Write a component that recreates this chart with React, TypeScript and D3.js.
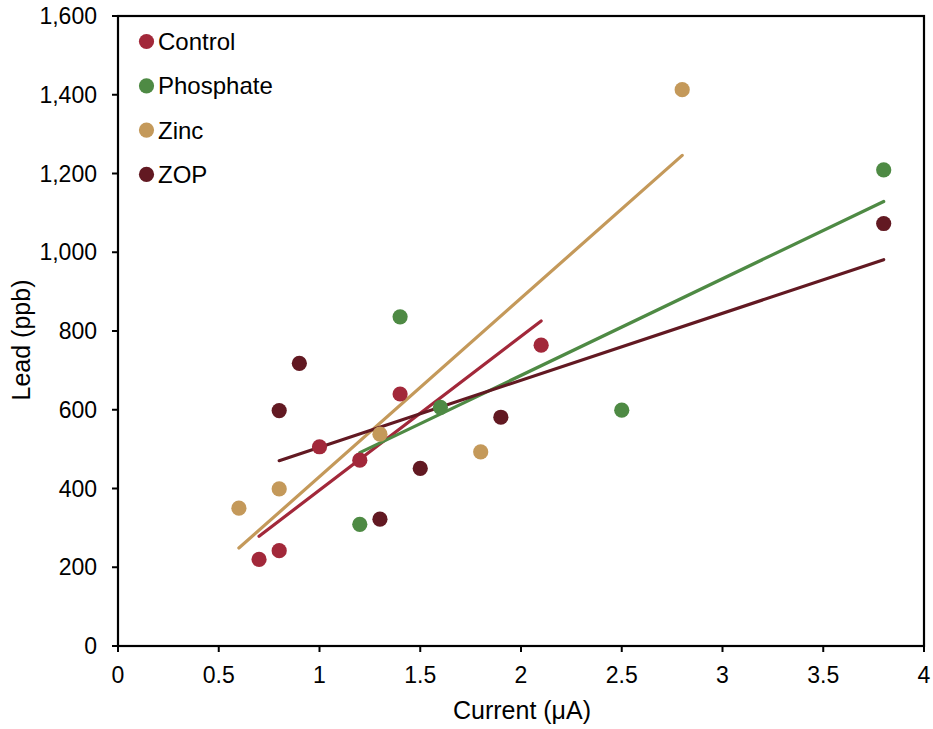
import React from "react";
import * as d3 from "d3";

const seriesNames = ["Control", "Phosphate", "Zinc", "ZOP"];
const seriesColors = ["#A2283A", "#4E8A44", "#C4995A", "#621922"];

const controlX = [0.7, 0.8, 1.0, 1.2, 1.4, 2.1];
const controlY = [220, 242, 506, 472, 640, 764];
const phosphateX = [1.2, 1.4, 1.6, 2.5, 3.8];
const phosphateY = [309, 836, 606, 599, 1209];
const zincX = [0.6, 0.8, 1.3, 1.8, 2.8];
const zincY = [350, 399, 538, 493, 1413];
const zopX = [0.8, 0.9, 1.3, 1.5, 1.9, 3.8];
const zopY = [598, 718, 322, 451, 581, 1073];

const xTicks = [0, 0.5, 1, 1.5, 2, 2.5, 3, 3.5, 4];
const yTicks = [0, 200, 400, 600, 800, 1000, 1200, 1400, 1600];

const xTitle = "Current (μA)";
const yTitle = "Lead (ppb)";

const W = 933;
const H = 729;
const L = 118;
const R = 924;
const T = 16;
const B = 646;

const FONT = "'Liberation Sans', Arial, sans-serif";

function fit(xs: number[], ys: number[]) {
  const mx = d3.mean(xs)!;
  const my = d3.mean(ys)!;
  let sxy = 0;
  let sxx = 0;
  xs.forEach((x, i) => {
    sxy += (x - mx) * (ys[i] - my);
    sxx += (x - mx) * (x - mx);
  });
  const slope = sxy / sxx;
  const b = my - slope * mx;
  const x0 = d3.min(xs)!;
  const x1 = d3.max(xs)!;
  return [
    [x0, b + slope * x0],
    [x1, b + slope * x1],
  ];
}

export default function App() {
  const x = d3.scaleLinear().domain([0, 4]).range([L, R]);
  const y = d3.scaleLinear().domain([0, 1600]).range([B, T]);
  const fmt = d3.format(",");
  const data = [
    [controlX, controlY],
    [phosphateX, phosphateY],
    [zincX, zincY],
    [zopX, zopY],
  ];
  const line = d3
    .line<number[]>()
    .x((d) => x(d[0]))
    .y((d) => y(d[1]));

  return (
    <svg
      width={W}
      height={H}
      style={{ position: "absolute", left: 0, top: 0, background: "#fff" }}
      fontFamily={FONT}
    >
      <rect x={0} y={0} width={W} height={H} fill="#fff" />
      {data.map(([xs, ys], i) => (
        <path
          key={"l" + i}
          d={line(fit(xs, ys))!}
          stroke={seriesColors[i]}
          strokeWidth={3.2}
          strokeLinecap="round"
          fill="none"
        />
      ))}
      {data.map(([xs, ys], i) =>
        xs.map((v, j) => (
          <circle
            key={"p" + i + "-" + j}
            cx={x(v)}
            cy={y(ys[j])}
            r={7.6}
            fill={seriesColors[i]}
          />
        ))
      )}
      <rect x={L} y={T} width={R - L} height={B - T} fill="none" stroke="#000" strokeWidth={2.2} />
      {xTicks.map((t) => (
        <g key={"xt" + t}>
          <line x1={x(t)} x2={x(t)} y1={B} y2={B + 6} stroke="#000" strokeWidth={2} />
          <text x={x(t)} y={683} textAnchor="middle" fontSize={23} fill="#000">
            {t}
          </text>
        </g>
      ))}
      {yTicks.map((t) => (
        <g key={"yt" + t}>
          <line x1={L - 6} x2={L} y1={y(t)} y2={y(t)} stroke="#000" strokeWidth={2} />
          <text x={97} y={y(t) + 8} textAnchor="end" fontSize={23} fill="#000">
            {fmt(t)}
          </text>
        </g>
      ))}
      <text x={(L + R) / 2 + 1} y={719} textAnchor="middle" fontSize={25} fill="#000">
        {xTitle}
      </text>
      <text
        transform={`translate(30,340) rotate(-90)`}
        textAnchor="middle"
        fontSize={25}
        fill="#000"
      >
        {yTitle}
      </text>
      {seriesNames.map((n, i) => {
        const cy = 41.5 + i * 44.3;
        return (
          <g key={"lg" + n}>
            <circle cx={146.5} cy={cy} r={7.6} fill={seriesColors[i]} />
            <text x={158} y={cy + 8.5} fontSize={24} fill="#000">
              {n}
            </text>
          </g>
        );
      })}
    </svg>
  );
}
